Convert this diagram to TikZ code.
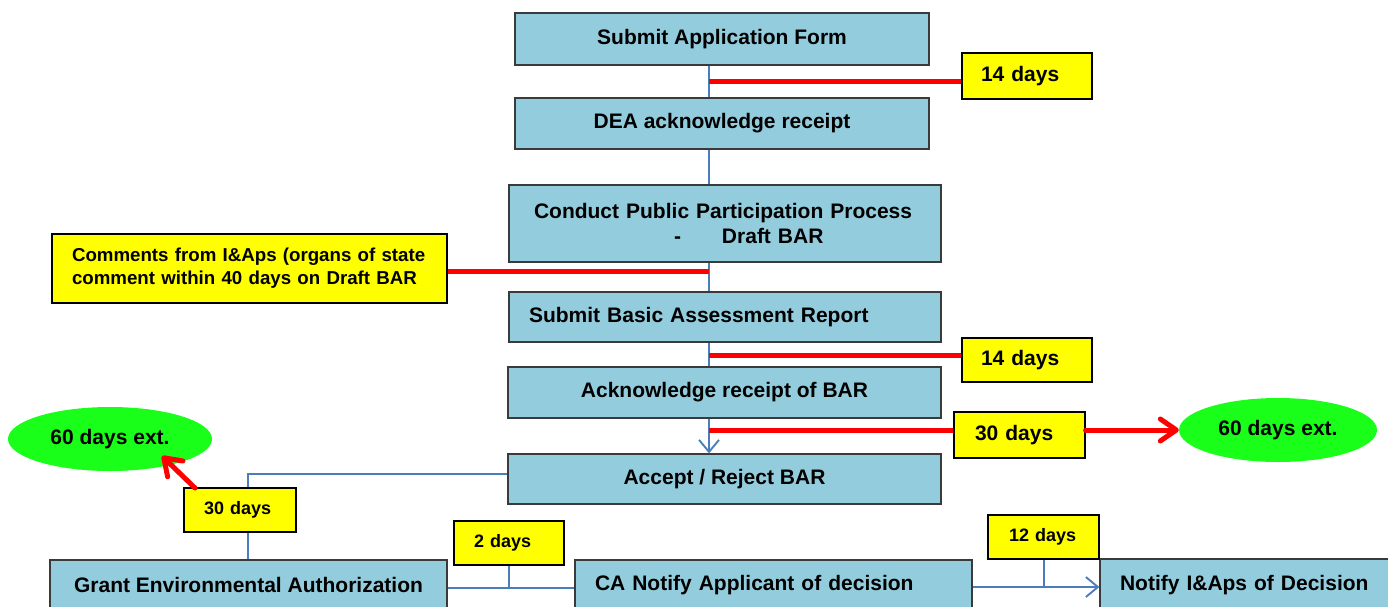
\documentclass[tikz,border=0pt]{standalone}
\usepackage{fontspec}
\setmainfont{Liberation Sans}
\usetikzlibrary{arrows.meta,shapes.geometric}
\definecolor{boxblue}{HTML}{93CDDD}
\definecolor{linkblue}{HTML}{4A7EBB}
\definecolor{brd}{HTML}{3A3A3A}
\definecolor{grn}{HTML}{1AFF1A}
\definecolor{ylw}{HTML}{FFFF00}
\definecolor{rd}{HTML}{FF0000}
\begin{document}
\begin{tikzpicture}[x=1pt,y=-1pt,
  bluebox/.style={draw=brd, line width=1.3pt, fill=boxblue, inner sep=0pt,
    font=\fontsize{21}{25}\selectfont\bfseries},
  ybox/.style={draw=black, line width=1.1pt, fill=ylw, inner ysep=0pt, align=left,
    font=\fontsize{21}{25}\selectfont\bfseries},
  ysmall/.style={ybox, font=\fontsize{18}{22}\selectfont\bfseries},
  gell/.style={ellipse, fill=grn, inner sep=0pt, font=\fontsize{21}{25}\selectfont\bfseries},
  link/.style={draw=linkblue, line width=1.9pt},
  redline/.style={draw=rd, line width=5pt},
  bluearrow/.style={link, -{Straight Barb[length=12pt,width=20pt,line width=1.9pt]}},
  redarrow/.style={redline, line cap=round, -{Straight Barb[length=16pt,width=22pt,line width=5pt,round]}}
]
\clip (0,0) rectangle (1388,606);
\fill[white] (0,0) rectangle (1388,606);

% spine coordinate
\coordinate (spine) at (709,0);

% blue boxes
\node[bluebox, minimum width=414pt, minimum height=52pt] (b1) at (722,39) {Submit Application Form};
\node[bluebox, minimum width=414pt, minimum height=51pt] (b2) at (722,123.5) {DEA acknowledge receipt};
\node[bluebox, minimum width=432pt, minimum height=77pt, align=left, text width=382pt, inner xsep=25pt] (b3) at (725,223.5)
  {Conduct Public Participation Process\\\hspace*{140pt}-\hspace{41pt}Draft BAR};
\node[bluebox, minimum width=432pt, minimum height=50pt, align=left, text width=392pt, inner xsep=20pt] (b4) at (725,317) {Submit Basic Assessment Report};
\node[bluebox, minimum width=433pt, minimum height=51pt] (b5) at (724.5,392.5) {Acknowledge receipt of BAR};
\node[bluebox, minimum width=433pt, minimum height=50pt] (b6) at (724.5,479) {Accept / Reject BAR};
\node[bluebox, minimum width=397pt, minimum height=50pt] (b7) at (248.5,585) {Grant Environmental Authorization};
\node[bluebox, minimum width=397pt, minimum height=50pt, align=left, text width=357pt, inner xsep=20pt] (b8) at (773.5,585) {CA Notify Applicant of decision};
\node[bluebox, minimum width=300pt, minimum height=52pt, align=left, text width=260pt, inner xsep=20pt] (b9) at (1250,585) {Notify I\&Aps of Decision};

% yellow boxes
\node[ybox, minimum height=46pt, text width=92pt, inner xsep=19pt] (y14a) at (1027,76) {14 days};
\node[ybox, minimum height=44pt, text width=92pt, inner xsep=19pt] (y14b) at (1027,360) {14 days};
\node[ybox, minimum height=46pt, text width=89pt, inner xsep=21pt] (y30r) at (1019.5,435) {30 days};
\node[ysmall, minimum height=44pt, text width=72pt, inner xsep=20pt] (y30l) at (240,510) {30 days};
\node[ysmall, minimum height=44pt, text width=70pt, inner xsep=20pt] (y2) at (509,543) {2 days};
\node[ysmall, minimum height=44pt, text width=69pt, inner xsep=21pt] (y12) at (1043.5,537) {12 days};
\node[ybox, font=\fontsize{18.7}{23}\selectfont\bfseries, minimum height=69pt, text width=355pt, inner xsep=20pt] (com) at (249.5,268.5)
  {Comments from I\&Aps (organs of state\\comment within 40 days on Draft BAR};

% green ellipses
\node[gell, minimum width=204pt, minimum height=64pt] (gl) at (110,439) {60 days ext.};
\node[gell, minimum width=198pt, minimum height=64pt] (gr) at (1278,430) {60 days ext.};

% blue spine connectors
\draw[link] (b1.south -| spine) -- (b2.north -| spine);
\draw[link] (b2.south -| spine) -- (b3.north -| spine);
\draw[link] (b3.south -| spine) -- (b4.north -| spine);
\draw[link] (b4.south -| spine) -- (b5.north -| spine);
\draw[bluearrow] (b5.south -| spine) -- (b6.north -| spine);

% red timing lines
\coordinate (t1) at (709,81);
\coordinate (t2) at (709,271);
\coordinate (t3) at (709,355);
\coordinate (t4) at (709,430);
\draw[redline] (t1) -- (y14a.west |- t1);
\draw[redline] (com.east |- t2) -- (t2);
\draw[redline] (t3) -- (y14b.west |- t3);
\draw[redline] (t4) -- (y30r.west |- t4);
\draw[redarrow] (y30r.east |- t4) -- (gr.west);
\coordinate (s5) at (195,488);
\coordinate (e5) at (162,456);
\draw[redarrow] (s5) -- (e5);

% lower blue connectors
\coordinate (k1) at (248,474);
\draw[link] (b6.west |- k1) -- (k1) -- (y30l.north -| k1);
\draw[link] (y30l.south -| k1) -- (b7.north -| k1);
\coordinate (k2) at (509,588);
\draw[link] (b7.east |- k2) -- (b8.west |- k2);
\draw[link] (y2.south -| k2) -- (k2);
\coordinate (k3) at (1044,587);
\draw[bluearrow] (b8.east |- k3) -- (b9.west |- k3);
\draw[link] (y12.south -| k3) -- (k3);
\end{tikzpicture}
\end{document}
